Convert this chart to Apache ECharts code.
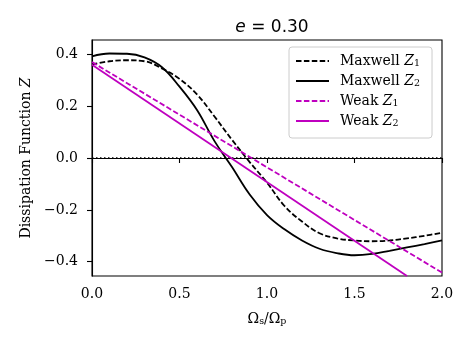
<!DOCTYPE html>
<html>
<head>
<meta charset="utf-8">
<script src="https://cdn.jsdelivr.net/npm/echarts@6/dist/echarts.min.js"></script>
<style>
  html, body { margin: 0; padding: 0; background: #fff; }
  #chart { width: 471px; height: 347px; }
</style>
</head>
<body>
<div id="chart"></div>
<script>
// frequency ratio samples
const xs = [0.0, 0.1, 0.2, 0.3, 0.4, 0.5, 0.6, 0.7, 0.8, 0.9, 1.0,
            1.1, 1.2, 1.3, 1.4, 1.5, 1.6, 1.7, 1.8, 1.9, 2.0]
const maxwellZ1 = [0.360, 0.373, 0.377, 0.373, 0.345, 0.305, 0.245, 0.160, 0.070, -0.015, -0.095,
                   -0.185, -0.245, -0.290, -0.310, -0.318, -0.321, -0.318, -0.310, -0.300, -0.288]
const maxwellZ2 = [0.392, 0.403, 0.402, 0.388, 0.350, 0.275, 0.185, 0.065, -0.035, -0.140, -0.220,
                   -0.275, -0.318, -0.350, -0.367, -0.375, -0.370, -0.358, -0.345, -0.332, -0.318]
// weak-friction curves are straight lines: end points
const weakZ1X = [0.0, 2.0]
const weakZ1 = [0.370, -0.442]
const weakZ2X = [0.0, 1.8]
const weakZ2 = [0.360, -0.455]
const zeroX = [0.0, 2.0]
const zeroY = [0.0, 0.0]
const yTicks = [-0.4, -0.2, 0.0, 0.2, 0.4]
const legendNames = ['Maxwell Z1', 'Maxwell Z2', 'Weak Z1', 'Weak Z2']

const pairs = (x, y) => x.map((v, i) => [v, y[i]])
const fmt = v => (v < 0 ? '\u2212' : '') + Math.abs(v).toFixed(1)

const serif = 'DejaVu Serif'
const magenta = '#bf00bf'

const chart = echarts.init(document.getElementById('chart'), null, { renderer: 'canvas' })

const option = {
  animation: false,
  title: {
    text: '{i|e}{n| = 0.30}',
    left: 267,
    top: 14,
    textAlign: 'center',
    textStyle: {
      fontWeight: 'normal',
      rich: {
        i: { fontFamily: 'DejaVu Sans', fontStyle: 'italic', fontWeight: 'normal', fontSize: 17, color: '#000' },
        n: { fontFamily: 'DejaVu Sans', fontWeight: 'normal', fontSize: 17, color: '#000' }
      }
    }
  },
  grid: {
    left: 92, right: 29, top: 40, bottom: 71,
    show: true, borderColor: '#000', borderWidth: 1.1, backgroundColor: 'transparent'
  },
  legend: {
    data: legendNames,
    orient: 'vertical',
    left: 289,
    top: 47,
    itemWidth: 33,
    itemHeight: 14,
    itemGap: 5,
    padding: [7, 12, 9, 6],
    backgroundColor: 'rgba(255,255,255,0.8)',
    borderColor: '#cccccc',
    borderWidth: 1,
    borderRadius: 3,
    itemStyle: { opacity: 0 },
    formatter: name => {
      const parts = name.split(' ')
      return '{t|' + parts[0] + ' }{z|' + parts[1][0] + '}{s|' + parts[1][1] + '}'
    },
    textStyle: {
      padding: [0, 0, 0, 6],
      rich: {
        t: { fontFamily: serif, fontSize: 14, color: '#000' },
        z: { fontFamily: serif, fontStyle: 'italic', fontSize: 14, color: '#000' },
        s: { fontFamily: serif, fontSize: 9.5, color: '#000', padding: [6, 0, 0, 0] }
      }
    }
  },
  xAxis: {
    type: 'value',
    min: 0,
    max: 2,
    interval: 0.5,
    name: '{a|\u03a9}{b|s}{a|/\u03a9}{b|p}',
    nameLocation: 'middle',
    nameGap: 35,
    nameTextStyle: {
      rich: {
        a: { fontFamily: serif, fontSize: 14, color: '#000' },
        b: { fontFamily: serif, fontSize: 9.5, color: '#000', padding: [6, 0, 0, 0] }
      }
    },
    axisLine: { lineStyle: { color: '#000', width: 1.1 } },
    axisTick: { length: 5, lineStyle: { color: '#000', width: 1.1 } },
    axisLabel: { formatter: fmt, fontFamily: serif, fontSize: 14, color: '#000', margin: 11 },
    splitLine: { show: false }
  },
  yAxis: {
    type: 'value',
    min: -0.455,
    max: 0.455,
    name: '{t|Dissipation Function }{z|Z}',
    nameLocation: 'middle',
    nameGap: 59,
    nameTextStyle: {
      rich: {
        t: { fontFamily: serif, fontSize: 14, color: '#000' },
        z: { fontFamily: serif, fontStyle: 'italic', fontSize: 14, color: '#000' }
      }
    },
    axisLine: { lineStyle: { color: '#000', width: 1.1 } },
    axisTick: { length: 5, customValues: yTicks, lineStyle: { color: '#000', width: 1.1 } },
    axisLabel: { customValues: yTicks, formatter: fmt, fontFamily: serif, fontSize: 14, color: '#000', margin: 14 },
    splitLine: { show: false }
  },
  series: [
    {
      name: 'zero',
      type: 'line',
      data: pairs(zeroX, zeroY),
      symbol: 'none',
      silent: true,
      lineStyle: { color: '#000', width: 1.5, type: [1.5, 2.5] }
    },
    {
      name: 'Maxwell Z1',
      type: 'line',
      data: pairs(xs, maxwellZ1),
      smooth: 0.4,
      symbol: 'none',
      lineStyle: { color: '#000', width: 1.8, type: [5.5, 2.4] },
      itemStyle: { color: '#000' }
    },
    {
      name: 'Maxwell Z2',
      type: 'line',
      data: pairs(xs, maxwellZ2),
      smooth: 0.4,
      symbol: 'none',
      lineStyle: { color: '#000', width: 1.8 },
      itemStyle: { color: '#000' }
    },
    {
      name: 'Weak Z1',
      type: 'line',
      data: pairs(weakZ1X, weakZ1),
      symbol: 'none',
      lineStyle: { color: magenta, width: 1.8, type: [5.5, 2.4] },
      itemStyle: { color: magenta }
    },
    {
      name: 'Weak Z2',
      type: 'line',
      data: pairs(weakZ2X, weakZ2),
      symbol: 'none',
      lineStyle: { color: magenta, width: 1.8 },
      itemStyle: { color: magenta }
    }
  ]
}

chart.setOption(option)
window.addEventListener('resize', () => chart.resize())
</script>
</body>
</html>
